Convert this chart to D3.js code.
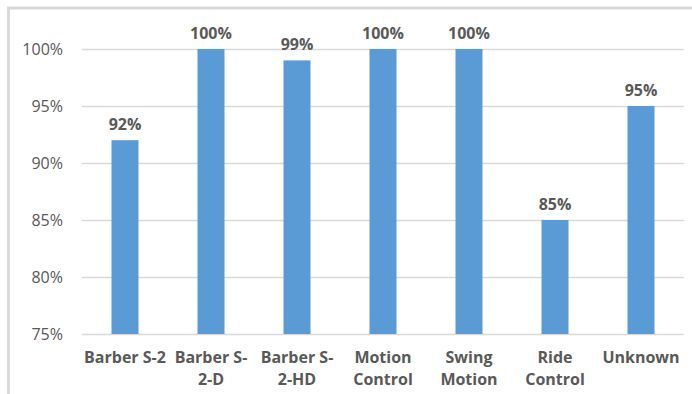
<!DOCTYPE html>
<html>
<head>
<meta charset="utf-8">
<script src="https://cdn.jsdelivr.net/npm/d3@7"></script>
<style>
  html, body { margin: 0; padding: 0; background: #fff; }
  svg { display: block; }
</style>
</head>
<body>
<svg id="chart" width="692" height="394"></svg>
<script>
const categories = ["Barber S-2", "Barber S-2-D", "Barber S-2-HD", "Motion Control", "Swing Motion", "Ride Control", "Unknown"];
const categoryLines = [["Barber S-2"], ["Barber S-", "2-D"], ["Barber S-", "2-HD"], ["Motion", "Control"], ["Swing", "Motion"], ["Ride", "Control"], ["Unknown"]];
const values = [0.92, 1.00, 0.99, 1.00, 1.00, 0.85, 0.95];
const valueLabels = ["92%", "100%", "99%", "100%", "100%", "85%", "95%"];
const yTicks = [0.75, 0.80, 0.85, 0.90, 0.95, 1.00];

const svg = d3.select("#chart");
const font = "'Open Sans', sans-serif";
const textColor = "#595959";

// outer border (top and left visible)
svg.append("path")
  .attr("d", "M8.5,394 L8.5,8 L692,8")
  .attr("fill", "none")
  .attr("stroke", "#d9d9d9")
  .attr("stroke-width", 3);

const x = d3.scaleBand().domain(categories).range([82, 684]).paddingInner(0.686).paddingOuter(0.343);
const y = d3.scaleLinear().domain([0.75, 1.0]).range([334, 49]);

// gridlines
svg.append("g").selectAll("line").data(yTicks).join("line")
  .attr("x1", 82).attr("x2", 684)
  .attr("y1", d => Math.round(y(d)) + 0.5).attr("y2", d => Math.round(y(d)) + 0.5)
  .attr("stroke", "#d9d9d9").attr("stroke-width", 1.3);

// y axis labels
const yAxis = d3.axisLeft(y).tickValues(yTicks).tickFormat(d3.format(".0%")).tickSize(0).tickPadding(0);
const yg = svg.append("g").attr("transform", "translate(63,0)").call(yAxis);
yg.select(".domain").remove();
yg.selectAll("text").attr("font-family", font).attr("font-size", 16).attr("fill", textColor);

// bars
svg.append("g").selectAll("rect").data(values).join("rect")
  .attr("x", (d, i) => x(categories[i]))
  .attr("width", x.bandwidth())
  .attr("y", d => y(d))
  .attr("height", d => y(0.75) - y(d))
  .attr("fill", "#5b9bd5");

// value labels
svg.append("g").selectAll("text").data(values).join("text")
  .attr("x", (d, i) => x(categories[i]) + x.bandwidth() / 2)
  .attr("y", d => y(d) - 10)
  .attr("text-anchor", "middle")
  .attr("font-family", font).attr("font-size", 16).attr("font-weight", "bold")
  .attr("fill", textColor)
  .text((d, i) => valueLabels[i]);

// category labels
const cg = svg.append("g").selectAll("text").data(categories).join("text")
  .attr("text-anchor", "middle")
  .attr("font-family", font).attr("font-size", 16).attr("font-weight", "bold")
  .attr("fill", textColor);
cg.each(function(d, i) {
  const t = d3.select(this);
  categoryLines[i].forEach((line, j) => {
    t.append("tspan")
      .attr("x", x(d) + x.bandwidth() / 2)
      .attr("y", 363 + j * 22)
      .text(line);
  });
});
</script>
</body>
</html>
